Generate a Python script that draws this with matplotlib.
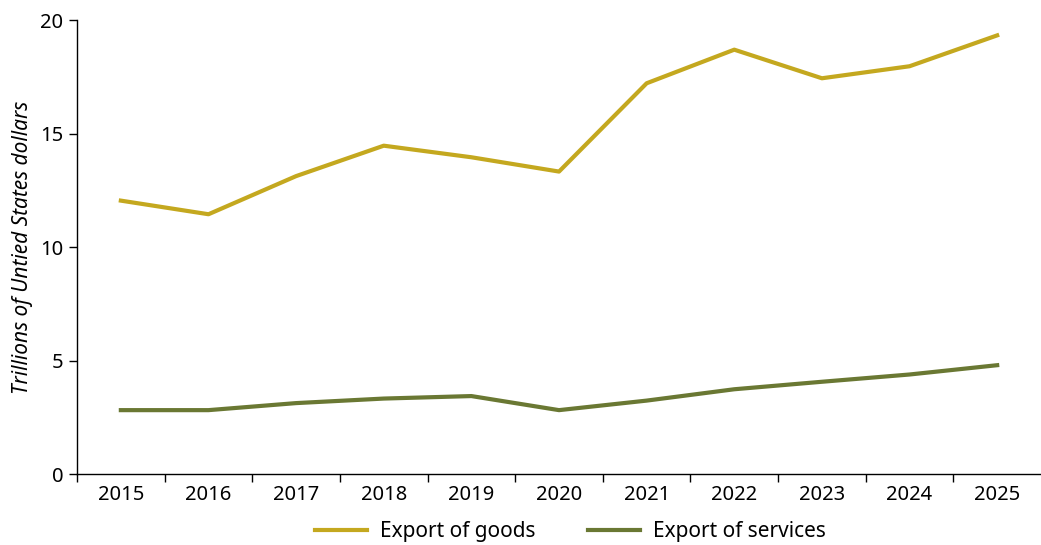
import matplotlib.pyplot as plt
from matplotlib.ticker import FixedLocator

plt.rcParams['font.family'] = ['Noto Sans', 'DejaVu Sans']

years = ['2015', '2016', '2017', '2018', '2019', '2020', '2021', '2022', '2023', '2024', '2025']
goods = [12.05, 11.45, 13.13, 14.47, 13.96, 13.33, 17.22, 18.70, 17.44, 17.97, 19.33]
services = [2.82, 2.82, 3.13, 3.33, 3.44, 2.82, 3.24, 3.74, 4.07, 4.39, 4.80]

fig = plt.figure(figsize=(10.41, 5.45), dpi=100)
ax = fig.add_axes([0.074, 0.130, 0.926, 0.833])

x = list(range(len(years)))
ax.plot(x, goods, color='#C4A81F', linewidth=3, label='Export of goods')
ax.plot(x, services, color='#6A7833', linewidth=3, label='Export of services')

ax.set_xlim(-0.5, len(years) - 0.5)
ax.set_ylim(0, 20)
ax.set_yticks([0, 5, 10, 15, 20])
ax.set_xticks(x)
ax.set_xticklabels(years)
ax.xaxis.set_minor_locator(FixedLocator([i - 0.5 for i in range(len(years))]))
ax.tick_params(axis='x', which='major', length=0, pad=8, labelsize=14.5)
ax.tick_params(axis='x', which='minor', length=6, width=1)
ax.tick_params(axis='y', length=6, width=1, labelsize=14.5, pad=4)

for side in ['top', 'right']:
    ax.spines[side].set_visible(False)
ax.spines['left'].set_linewidth(1)
ax.spines['bottom'].set_linewidth(1)

ax.set_ylabel('Trillions of Untied States dollars', fontsize=15, style='italic', labelpad=5)

fig.legend(loc='center', bbox_to_anchor=(0.548, 0.024), ncol=2, frameon=False,
           fontsize=15, handlelength=2.5, columnspacing=2.5, handletextpad=0.62)

fig.savefig('out.png', dpi=100)
